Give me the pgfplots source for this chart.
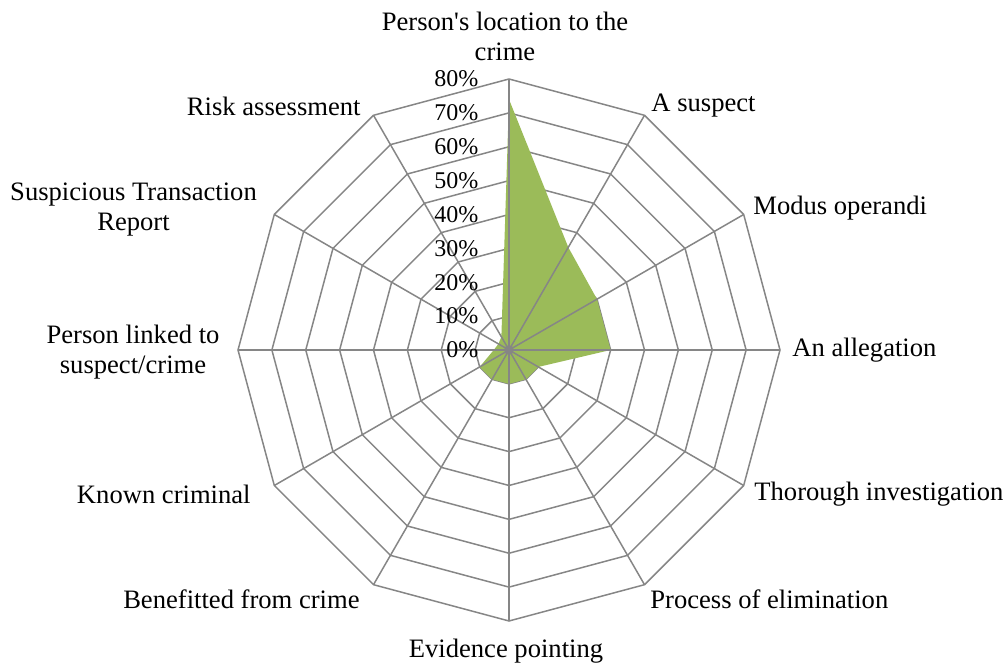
\documentclass[border=0pt]{standalone}
\usepackage{pgfplots}
\pgfplotsset{compat=1.18}
\usepackage{fontspec}
\setmainfont{Liberation Serif}
\definecolor{gridgray}{RGB}{134,134,134}
\definecolor{fillgreen}{RGB}{155,187,89}
\newcommand{\lblfont}{\rmfamily\fontsize{13.3}{15}\selectfont}
\newcommand{\tickfont}{\rmfamily\fontsize{12}{14}\selectfont}
\begin{document}
\begin{tikzpicture}
\useasboundingbox (0,0) rectangle (504pt,332pt);
\begin{axis}[
  at={(254.5pt,157pt)}, anchor=center,
  scale only axis, width=271pt, height=271pt,
  xmin=-80, xmax=80, ymin=-80, ymax=80,
  hide axis, clip=false,
  every axis plot/.append style={no markers},
]
% rings
\pgfplotsinvokeforeach{10,20,30,40,50,60,70,80}{
  \addplot[gridgray, line width=0.75pt, data cs=polar] coordinates {
    (90,#1) (60,#1) (30,#1) (0,#1) (-30,#1) (-60,#1) (-90,#1) (-120,#1) (-150,#1) (180,#1) (150,#1) (120,#1) (90,#1)};
}
% data area
\addplot[fill=fillgreen, draw=none, data cs=polar] coordinates {
  (90,74) (60,35) (30,30) (0,30) (-30,10) (-60,10) (-90,10) (-120,10) (-150,10) (180,4.5) (150,3.6) (120,4.5) (90,74)};
% spokes
\pgfplotsinvokeforeach{0,30,60,120,150,180,210,240,270,300,330}{
  \addplot[gridgray, line width=0.75pt, data cs=polar] coordinates {(#1,0) (#1,80)};
}
\addplot[gridgray, line width=1pt, data cs=polar] coordinates {(90,0) (90,80)};
\addplot[gridgray, only marks, mark=*, mark size=2.2pt] coordinates {(0,0)};
% value labels
\pgfplotsinvokeforeach{0,10,20,30,40,50,60,70,80}{
  \node[anchor=east, inner sep=0pt, font=\tickfont] at (axis cs:-8.9,#1) {#1\%};
}
\end{axis}
% category labels (positions in px of a 1008x664 canvas, 0.5pt per px)
\begin{scope}[every node/.style={inner sep=0pt, font=\lblfont}]
\node[anchor=center, align=center] at ({505*0.5pt},{(664-36)*0.5pt}) {Person\textquotesingle s location to the\\crime};
\node[anchor=west] at ({651*0.5pt},{(664-106)*0.5pt}) {A suspect};
\node[anchor=west] at ({753*0.5pt},{(664-208)*0.5pt}) {Modus operandi};
\node[anchor=west] at ({792*0.5pt},{(664-350)*0.5pt}) {An allegation};
\node[anchor=west] at ({754*0.5pt},{(664-494)*0.5pt}) {Thorough investigation};
\node[anchor=west] at ({650*0.5pt},{(664-599)*0.5pt}) {Process of elimination};
\node[anchor=center] at ({506*0.5pt},{(664-651)*0.5pt}) {Evidence pointing};
\node[anchor=east] at ({360*0.5pt},{(664-599)*0.5pt}) {Benefitted from crime};
\node[anchor=east] at ({251*0.5pt},{(664-494)*0.5pt}) {Known criminal};
\node[anchor=center, align=center] at ({133*0.5pt},{(664-352)*0.5pt}) {Person linked to\\suspect/crime};
\node[anchor=center, align=center] at ({133.5*0.5pt},{(664-210)*0.5pt}) {Suspicious Transaction\\Report};
\node[anchor=east] at ({361*0.5pt},{(664-106)*0.5pt}) {Risk assessment};
\end{scope}
\end{tikzpicture}
\end{document}
